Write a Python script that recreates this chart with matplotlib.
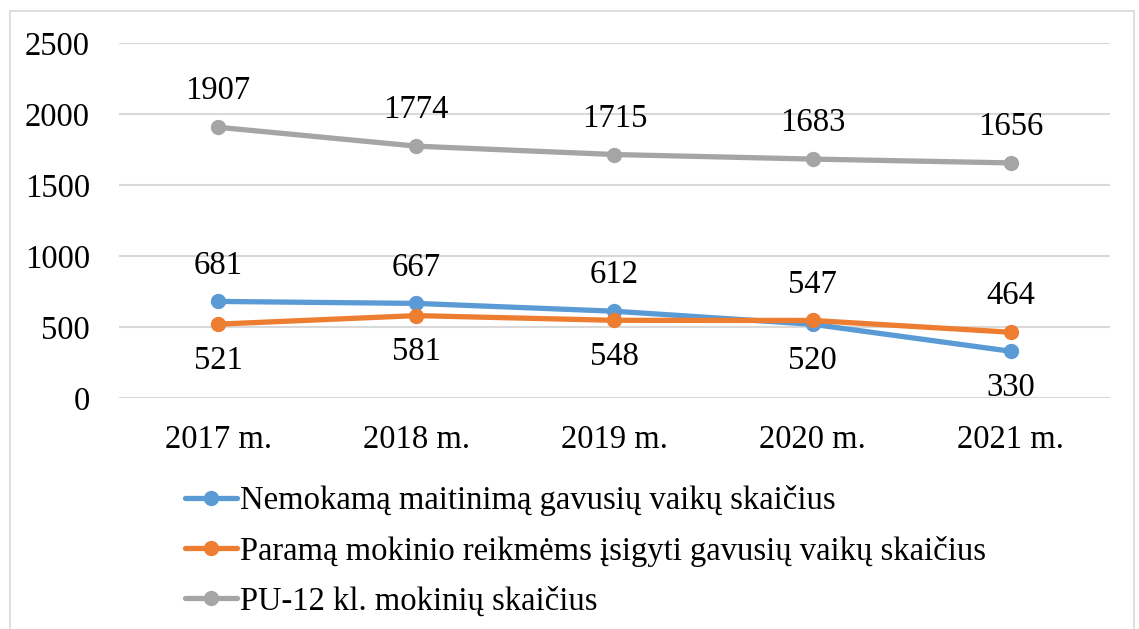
import matplotlib
matplotlib.use('Agg')
import matplotlib.pyplot as plt
from matplotlib.patches import Rectangle

plt.rcParams['font.family'] = ['Liberation Serif', 'DejaVu Serif']

years = ['2017 m.', '2018 m.', '2019 m.', '2020 m.', '2021 m.']
nemokamas = [681, 667, 612, 520, 330]
parama = [521, 581, 548, 547, 464]
mokiniai = [1907, 1774, 1715, 1683, 1656]

names = ['Nemokamą maitinimą gavusių vaikų skaičius',
         'Paramą mokinio reikmėms įsigyti gavusių vaikų skaičius',
         'PU-12 kl. mokinių skaičius']
colors = ['#5B9BD5', '#ED7D31', '#A5A5A5']

# label placement: +1 above, -1 below
pos_nem = [1, 1, 1, -1, -1]
pos_par = [-1, -1, -1, 1, 1]
pos_mok = [1, 1, 1, 1, 1]

fs = 23.5

fig = plt.figure(figsize=(11.39, 6.29), dpi=100)
ax = fig.add_axes([0.1045, 0.367, 0.87, 0.5646])

x = list(range(len(years)))
for vals, pos, name, c in zip([nemokamas, parama, mokiniai],
                              [pos_nem, pos_par, pos_mok], names, colors):
    ax.plot(x, vals, color=c, lw=3.8, marker='o', ms=10, label=name,
            solid_capstyle='round')
    for xi, v, p in zip(x, vals, pos):
        ax.annotate(str(v), (xi, v), xytext=(0, 26 * p), textcoords='offset points',
                    ha='center', va='center', fontsize=fs)

ax.set_xlim(-0.5, 4.5)
ax.set_ylim(0, 2500)
ax.set_yticks([0, 500, 1000, 1500, 2000, 2500])
ax.set_xticks(x)
ax.set_xticklabels(years)
ax.tick_params(axis='both', length=0, labelsize=fs)
ax.tick_params(axis='x', pad=19)
ax.tick_params(axis='y', pad=21)
ax.grid(axis='y', color='#D9D9D9', lw=1.5)
ax.set_axisbelow(True)
for s in ax.spines.values():
    s.set_visible(False)

leg = fig.legend(loc='upper left', bbox_to_anchor=(0.148, 0.255), frameon=False,
                 fontsize=fs, handlelength=1.6, handletextpad=0.1, labelspacing=0.6,
                 borderpad=0)

fig.patches.append(Rectangle((10 / 1139, -0.01), 1124 / 1139, 1 - 11 / 629 + 0.01,
                             transform=fig.transFigure, fill=False,
                             edgecolor='#D9D9D9', lw=1.2))

fig.savefig('out.png', dpi=100)
